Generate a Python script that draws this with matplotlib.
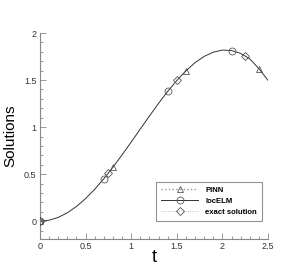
import matplotlib
matplotlib.use("Agg")
import matplotlib.pyplot as plt
from matplotlib.ticker import MultipleLocator, FormatStrFormatter

plt.rcParams["font.family"] = ["Liberation Sans", "DejaVu Sans"]

# curve (t, solution)
t_curve = [0.0, 0.1, 0.2, 0.3, 0.4, 0.5, 0.6, 0.7, 0.8, 0.9, 1.0, 1.1, 1.2,
           1.3, 1.4, 1.5, 1.6, 1.7, 1.8, 1.9, 2.0, 2.1, 2.2, 2.3, 2.4, 2.5]
y_curve = [0.0, 0.01, 0.04, 0.089, 0.156, 0.24, 0.339, 0.451, 0.574, 0.705,
           0.841, 0.98, 1.118, 1.253, 1.38, 1.496, 1.599, 1.686, 1.752, 1.797,
           1.819, 1.814, 1.783, 1.725, 1.621, 1.496]

# marker positions
t_pinn = [0.0, 0.8, 1.6, 2.4]
y_pinn = [0.0, 0.574, 1.599, 1.621]
t_locelm = [0.0, 0.7, 1.4, 2.1]
y_locelm = [0.0, 0.451, 1.38, 1.814]
t_exact = [0.0, 0.75, 1.5, 2.25]
y_exact = [0.0, 0.511, 1.496, 1.757]

mk = dict(mfc="none", mec="#555555", mew=0.6)
fig = plt.figure(figsize=(3.05, 2.71), dpi=100)
ax = fig.add_axes([0.131, 0.118, 0.748, 0.76])

ax.plot(t_curve, y_curve, color="#333333", lw=0.7, zorder=2)
ax.plot([], [], ls=":", color="#999999", lw=1.0, marker="^", ms=5, label="PINN", **mk)
ax.plot([], [], ls="-", color="#333333", lw=0.7, marker="o", ms=5, label="locELM", **mk)
ax.plot([], [], ls=":", color="#aaaaaa", lw=0.6, marker="D", ms=4, label="exact solution", **mk)
ax.plot(t_pinn, y_pinn, ls="none", marker="^", ms=5, zorder=3, **mk)
ax.plot(t_locelm, y_locelm, ls="none", marker="o", ms=5, zorder=3, **mk)
ax.plot(t_exact, y_exact, ls="none", marker="D", ms=4, zorder=3, **mk)

ax.set_xlim(0, 2.5)
ax.set_ylim(-0.19, 2.0)
ax.xaxis.set_major_locator(MultipleLocator(0.5))
ax.xaxis.set_minor_locator(MultipleLocator(0.1))
ax.yaxis.set_major_locator(MultipleLocator(0.5))
ax.yaxis.set_minor_locator(MultipleLocator(0.1))
ax.xaxis.set_major_formatter(FormatStrFormatter("%g"))
ax.yaxis.set_major_formatter(FormatStrFormatter("%g"))
for s in ("top", "right"):
    ax.spines[s].set_visible(False)
for s in ("left", "bottom"):
    ax.spines[s].set_color("#888888")
    ax.spines[s].set_linewidth(0.8)
ax.tick_params(which="both", direction="in", colors="#888888", labelcolor="#333333",
               labelsize=6.5, width=0.6, pad=2.5)
ax.tick_params(which="major", length=4)
ax.tick_params(which="minor", length=2)

ax.set_xlabel("t", fontsize=13)
ax.set_ylabel("Solutions", fontsize=11)
ax.xaxis.set_label_coords(0.5, -0.05)
ax.yaxis.set_label_coords(-0.1, 0.5)

leg = ax.legend(loc="lower right", bbox_to_anchor=(0.974, 0.087), borderaxespad=0,
                prop={"weight": "bold", "size": 5.6}, frameon=True, fancybox=False,
                handlelength=4.8, borderpad=0.65, labelspacing=0.45, handletextpad=0.9)
leg.get_frame().set_edgecolor("#777777")
leg.get_frame().set_linewidth(0.8)

fig.savefig("out.png", dpi=100, facecolor="white")
